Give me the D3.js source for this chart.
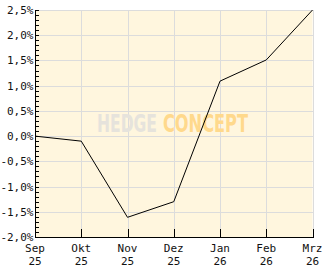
<!DOCTYPE html>
<html><head><meta charset="utf-8">
<script src="https://cdn.jsdelivr.net/npm/d3@7"></script>
<style>
html,body{margin:0;padding:0;background:#fff;}
svg{display:block;}
text{font-family:"DejaVu Sans Mono",monospace;font-size:11px;fill:#111;}
</style></head>
<body>
<svg id="c" width="332" height="269"></svg>
<script>
const months = ["Sep","Okt","Nov","Dez","Jan","Feb","Mrz"];
const years = ["25","25","25","25","26","26","26"];
const values = [0.0, -0.1, -1.61, -1.30, 1.09, 1.51, 2.5];
const yTicks = [-2.0,-1.5,-1.0,-0.5,0.0,0.5,1.0,1.5,2.0,2.5];

(function(){
const svg = d3.select("#c");
const pl = 35, pr = 312.5, pt = 10, pb = 237;
const x = d3.scalePoint().domain(d3.range(months.length)).range([pl, pr]);
const y = d3.scaleLinear().domain([-2, 2.5]).range([pb, pt]);

svg.append("rect").attr("x", pl).attr("y", pt).attr("width", pr-pl).attr("height", pb-pt).attr("fill", "#fff6de");

const g = svg.append("g").attr("shape-rendering","crispEdges");
g.selectAll(".hg").data(yTicks).join("line")
  .attr("x1", pl).attr("x2", pr).attr("y1", d=>Math.round(y(d))+0.5).attr("y2", d=>Math.round(y(d))+0.5)
  .attr("stroke", "#dcdcdc");
g.selectAll(".vg").data(d3.range(months.length)).join("line")
  .attr("x1", d=>Math.round(x(d))+0.5).attr("x2", d=>Math.round(x(d))+0.5).attr("y1", pt).attr("y2", pb)
  .attr("stroke", "#dcdcdc");

// watermark (fit each word to its width with a horizontal scale)
function mark(word, x0, w, color){
  const t = svg.append("text").attr("x", 0).attr("y", 0)
    .style("font-family","'Liberation Sans Narrow','DejaVu Sans Condensed',sans-serif")
    .style("font-weight","bold").style("font-size","25px").style("fill", color).text(word);
  const nat = t.node().getComputedTextLength();
  t.attr("transform", `translate(${x0},132) scale(${w/nat},1)`);
}
mark("HEDGE", 97, 60, "#e6e3dc");
mark("CONCEPT", 163, 85, "#ffd98c");

// axes
const yAxis = d3.axisLeft(y).tickValues(yTicks).tickSize(0).tickPadding(2)
  .tickFormat(d => d3.format(".1f")(d).replace(".", ",").replace("−","-") + "%");
const ya = svg.append("g").attr("transform", `translate(${pl+0.5},0)`).call(yAxis);
ya.select(".domain").remove();
ya.selectAll("text").style("font-family","'DejaVu Sans Mono',monospace").style("font-size","11px").attr("fill","#111").attr("x",-2);

const minor = d3.range(-20, 26).map(i => i/10);
const tk = svg.append("g").attr("shape-rendering","crispEdges");
tk.selectAll(".mt").data(minor).join("line")
  .attr("x1", pl).attr("x2", pl+4).attr("y1", d=>Math.round(y(d))+0.5).attr("y2", d=>Math.round(y(d))+0.5)
  .attr("stroke","#000");
tk.selectAll(".xt").data(d3.range(months.length)).join("line").attr("class","xt")
  .attr("x1", d=>Math.round(x(d))+0.5).attr("x2", d=>Math.round(x(d))+0.5).attr("y1", pb-8).attr("y2", pb)
  .attr("stroke","#000");
tk.append("line").attr("x1", pl+0.5).attr("x2", pl+0.5).attr("y1", pt).attr("y2", pb+0.5).attr("stroke","#000");
tk.append("line").attr("x1", pl).attr("x2", pr+1).attr("y1", pb+0.5).attr("y2", pb+0.5).attr("stroke","#000");

const xl = svg.append("g");
xl.selectAll("text.m").data(months).join("text").attr("class","m")
  .attr("x",(d,i)=>x(i)).attr("y",252).attr("text-anchor","middle").text(d=>d);
xl.selectAll("text.yr").data(years).join("text").attr("class","yr")
  .attr("x",(d,i)=>x(i)).attr("y",265).attr("text-anchor","middle").text(d=>d);

// line
svg.append("path").datum(values)
  .attr("d", d3.line().x((d,i)=>x(i)).y(d=>y(d)))
  .attr("fill","none").attr("stroke","#000").attr("stroke-width",1);
})();
</script>
</body></html>
